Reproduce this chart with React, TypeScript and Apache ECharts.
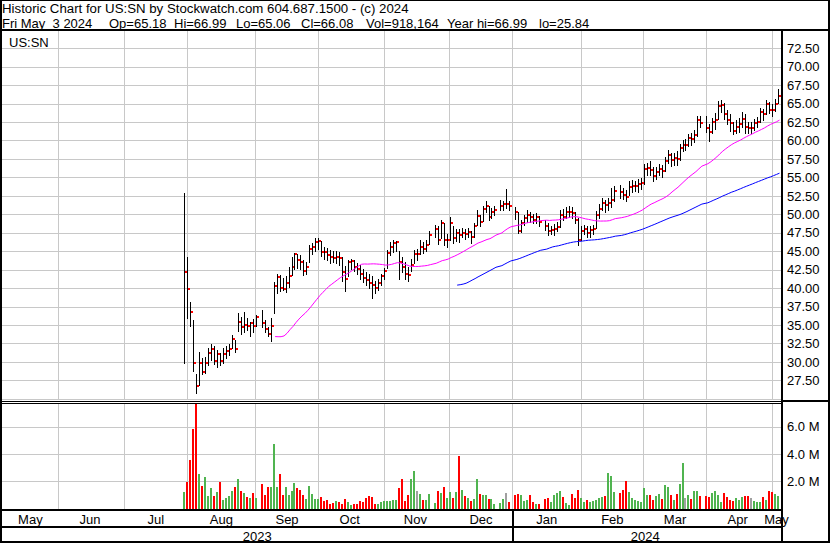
import React, { useEffect, useRef } from "react";
import * as echarts from "echarts";

const HEADER_LINE_1 = "Historic Chart for US:SN by Stockwatch.com 604.687.1500 - (c) 2024";
const HEADER_LINE_2_FIELDS = ["Fri May  3 2024", "Op=65.18", "Hi=66.99", "Lo=65.06", "Cl=66.08", "Vol=918,164", "Year hi=66.99", "lo=25.84"];
const HEADER_LINE_2_X = [2, 109, 174, 236, 301, 366, 447, 539];
const SYMBOL_LABEL = "US:SN";

const AXIS_FIRST_DAY = "2023-05-05";
const AXIS_LAST_DAY = "2024-05-03";
const FIRST_TRADING_DAY = "2023-07-31";
const MARKET_HOLIDAYS = ["2023-09-04", "2023-11-23", "2023-12-25", "2024-01-01", "2024-01-15", "2024-02-19", "2024-03-29"];
const MONTH_LABELS = ["Jan", "Feb", "Mar", "Apr", "May", "Jun", "Jul", "Aug", "Sep", "Oct", "Nov", "Dec"];

const PRICE_MIN = 25;
const PRICE_MAX = 75;
const PRICE_STEP = 2.5;
const VOLUME_MIN = 0;
const VOLUME_MAX = 7.75; // millions
const VOLUME_STEP = 2;
const VOLUME_LABELS = [2, 4, 6];
const MA_SHORT = 30;
const MA_LONG = 90;

// one entry per trading day, from 2023-07-31 to 2024-05-03
const HIGH = [
  52.95, 44.29, 38.16, 35.72, 28.41,
  31.43, 30.53, 30.75, 31.88, 32.47,
  32.20, 31.66, 31.21, 31.88, 32.24,
  32.47, 33.69, 33.00, 36.63, 36.17,
  36.76, 35.95, 35.50, 35.82, 36.40,
  37.07, 35.72, 34.81, 35.95,
  40.90, 42.00, 41.80, 41.40, 41.60,
  42.90, 44.30, 44.80, 44.60, 44.50,
  43.90, 43.60, 45.90, 46.20, 46.80,
  46.80, 46.40, 45.60, 45.50, 45.20,
  45.00, 45.10, 44.90, 44.30, 43.00,
  43.90, 44.00, 43.80, 43.40, 43.10,
  42.60, 42.20, 41.90, 41.60, 41.00,
  41.20, 42.00, 42.80, 45.20, 46.30,
  46.60, 46.40, 45.00, 44.20, 43.60,
  42.90, 44.00, 45.20, 45.30, 46.60,
  46.30, 46.60, 47.80, 48.60,
  48.40, 49.30, 48.90, 47.40, 49.60,
  48.50, 48.10, 48.00, 48.20, 48.00,
  48.20, 47.80, 48.90, 50.60, 50.00,
  51.20, 51.80, 51.20, 50.90, 51.20,
  51.90, 51.80, 53.50, 51.80,
  51.00, 50.30, 49.30, 50.00,
  50.60, 50.30, 50.10, 50.20, 49.80,
  49.20, 48.80, 48.50, 48.70,
  49.00, 50.60, 50.80, 51.00, 51.10,
  51.00, 50.40, 49.50, 48.40, 48.60,
  48.40, 48.40, 48.60, 50.50, 51.40,
  52.20, 51.90, 52.20, 53.60, 53.90,
  54.00, 53.60, 53.30, 54.50,
  54.70, 54.60, 54.80, 55.00, 56.80,
  57.00, 57.20, 56.40, 56.50, 56.90,
  56.70, 57.80, 58.80, 58.40, 58.30,
  58.60, 59.60, 60.10, 60.20, 60.90,
  61.00, 61.40, 63.40, 63.40,
  63.40, 62.20, 63.10, 63.80, 65.40,
  65.50, 65.10, 64.20, 63.60, 62.60,
  62.80, 63.10, 63.90, 63.60, 62.60,
  62.50, 63.00, 63.20, 64.40, 64.30,
  65.50, 65.20, 65.00, 65.60, 66.99,
];

const LOW = [
  29.94, 35.95, 34.95, 28.86, 25.84,
  26.92, 28.41, 28.59, 29.63, 30.30,
  29.76, 29.31, 29.54, 29.94, 30.53,
  31.00, 31.88, 31.43, 34.28, 33.83,
  34.14, 34.36, 33.55, 34.14, 34.90,
  34.81, 34.14, 33.55, 32.92,
  36.71, 39.40, 39.60, 39.80, 39.50,
  40.20, 41.80, 42.60, 42.80, 42.60,
  41.80, 41.90, 43.60, 44.60, 45.10,
  45.30, 44.40, 44.00, 43.80, 43.40,
  43.50, 43.40, 43.20, 41.00, 39.60,
  41.60, 42.60, 42.40, 42.00, 41.20,
  40.90, 40.50, 40.00, 38.70, 39.40,
  39.80, 40.40, 41.30, 42.80, 44.50,
  44.90, 45.00, 41.30, 42.20, 41.20,
  41.00, 42.30, 43.40, 43.90, 44.60,
  44.80, 45.00, 46.00, 47.00,
  46.00, 46.80, 45.80, 45.60, 46.50,
  46.20, 46.40, 46.30, 46.90, 46.70,
  46.90, 46.20, 46.90, 48.60, 48.50,
  49.10, 50.30, 49.30, 49.50, 49.90,
  50.60, 50.60, 50.90, 50.60,
  49.40, 47.50, 47.60, 48.60,
  49.00, 49.00, 48.80, 48.90, 48.40,
  47.90, 47.20, 47.30, 47.20,
  47.70, 48.30, 49.20, 49.50, 49.70,
  49.50, 48.90, 45.90, 46.50, 47.30,
  46.90, 47.00, 47.40, 48.20, 49.50,
  50.60, 50.30, 50.60, 51.00, 51.80,
  52.30, 52.10, 51.80, 52.60,
  53.00, 53.20, 53.10, 53.40, 54.20,
  55.30, 55.40, 54.50, 54.80, 55.30,
  55.10, 55.90, 57.00, 56.60, 56.70,
  56.70, 57.40, 58.60, 58.70, 59.30,
  59.40, 59.80, 60.60, 61.80,
  61.20, 60.00, 61.00, 61.60, 62.90,
  63.90, 63.00, 62.20, 61.30, 60.90,
  61.00, 61.20, 61.90, 61.10, 61.00,
  61.10, 61.50, 61.90, 62.60, 62.80,
  63.60, 63.80, 63.40, 64.00, 65.06,
];

const CLOSE = [
  42.26, 39.96, 36.80, 29.94, 26.79,
  29.94, 28.72, 29.85, 31.21, 31.80,
  30.17, 31.07, 30.17, 31.16, 31.57,
  31.84, 33.19, 31.80, 35.50, 34.81,
  35.04, 34.95, 35.27, 34.90, 36.09,
  35.35, 34.54, 33.78, 34.95,
  40.37, 41.59, 40.10, 39.92, 40.70,
  41.68, 42.94, 44.60, 43.84, 43.60,
  42.40, 42.94, 45.33, 45.60, 46.33,
  46.46, 44.97, 44.88, 44.52, 44.30,
  44.16, 44.30, 44.07, 42.27, 41.23,
  43.50, 43.70, 42.94, 42.60, 42.00,
  41.40, 41.10, 40.70, 40.40, 40.00,
  40.70, 41.60, 42.40, 44.75, 45.65,
  46.10, 46.30, 43.60, 42.90, 42.00,
  41.80, 43.10, 44.60, 44.60, 45.65,
  45.30, 45.90, 47.20, 48.10,
  46.55, 48.80, 46.50, 46.60, 48.90,
  46.80, 47.50, 47.20, 47.50, 47.30,
  47.60, 47.00, 48.40, 49.80, 49.00,
  50.70, 51.20, 49.60, 50.40, 50.60,
  51.20, 51.40, 51.40, 51.20,
  50.30, 47.80, 48.80, 49.50,
  50.00, 49.60, 49.30, 49.60, 49.00,
  48.40, 47.80, 47.90, 48.00,
  48.30, 49.90, 49.70, 50.30, 50.40,
  50.20, 49.30, 46.60, 47.80, 48.00,
  47.50, 47.90, 48.10, 49.90, 50.80,
  51.60, 51.30, 51.50, 51.90, 53.20,
  53.00, 52.70, 52.40, 53.70,
  53.80, 53.90, 54.10, 54.30, 56.20,
  56.30, 56.00, 55.20, 55.80, 56.10,
  55.90, 57.20, 58.10, 57.40, 57.60,
  57.50, 59.00, 59.40, 59.40, 60.30,
  60.20, 60.80, 62.80, 62.40,
  61.70, 61.20, 62.60, 62.80, 64.70,
  64.80, 63.60, 62.80, 62.40, 61.30,
  61.80, 62.30, 63.00, 61.90, 61.70,
  61.70, 62.40, 62.60, 63.90, 63.60,
  65.00, 64.20, 64.10, 65.00, 66.08,
];

// millions of shares
const VOLUME_M = [
  1.27, 1.95, 3.58, 5.85, 7.68,
  2.56, 1.68, 2.34, 0.95, 1.54,
  0.95, 1.24, 1.97, 0.66, 0.80,
  0.95, 1.32, 1.61, 2.19, 1.32,
  1.17, 0.88, 0.80, 1.17, 0.80,
  1.83, 1.02, 1.61, 1.61,
  4.75, 1.61, 2.56, 1.02, 1.61,
  1.02, 1.32, 1.90, 1.54, 1.39,
  1.02, 0.73, 1.68, 1.10, 0.73,
  0.73, 0.88, 0.59, 0.66, 0.37,
  0.44, 0.59, 0.51, 0.37, 0.73,
  0.51, 0.29, 0.37, 0.37, 0.59,
  0.51, 0.80, 0.95, 0.88, 0.37,
  0.37, 0.51, 0.59, 0.59, 0.59,
  0.66, 0.66, 1.54, 2.19, 0.59,
  1.02, 2.19, 2.78, 1.32, 1.10,
  0.66, 0.66, 1.10, 0.44,
  1.32, 1.17, 1.61, 0.80, 1.24,
  0.80, 1.24, 3.88, 1.39, 0.95,
  0.80, 0.59, 0.73, 2.19, 1.10,
  1.02, 1.02, 0.73, 0.73, 0.37,
  0.44, 0.73, 1.17, 0.51,
  1.02, 1.10, 1.02, 0.59,
  0.66, 1.02, 0.51, 0.37, 0.37,
  0.73, 0.80, 0.51, 1.02,
  1.17, 1.32, 0.88, 0.44, 0.29,
  1.10, 0.80, 1.39, 0.80, 0.51,
  0.66, 0.51, 0.59, 0.66, 0.80,
  0.88, 0.95, 2.63, 2.41, 1.24,
  1.17, 1.39, 2.05, 1.24,
  0.80, 0.66, 0.59, 0.51, 1.54,
  1.02, 1.02, 0.66, 0.95, 1.10,
  0.73, 1.76, 1.61, 1.02, 0.66,
  1.10, 1.83, 3.36, 0.80, 1.02,
  0.73, 1.32, 1.32, 0.95,
  0.95, 0.88, 1.17, 1.32, 1.02,
  0.51, 1.17, 0.88, 0.66, 0.59,
  0.80, 0.66, 0.88, 0.95, 0.95,
  0.80, 0.59, 0.51, 0.51, 0.88,
  0.66, 1.32, 1.24, 1.10, 0.92,
];

const FONT = '"Liberation Sans", Arial, Helvetica, sans-serif';
const GRID_COLOR = "#c8c8c8";
const UP_COLOR = "#50b450";
const DOWN_COLOR = "#ff0000";
const FLAT_COLOR = "#a0a0a0";

function isoDay(d: Date) {
  return d.toISOString().slice(0, 10);
}

function weekdaysBetween(a: string, b: string) {
  const out: string[] = [];
  const d = new Date(a + "T00:00:00Z");
  const end = new Date(b + "T00:00:00Z");
  while (d <= end) {
    const w = d.getUTCDay();
    if (w !== 0 && w !== 6) out.push(isoDay(d));
    d.setUTCDate(d.getUTCDate() + 1);
  }
  return out;
}

function midIndices(days: string[], keyLen: number) {
  const groups = new Map<string, number[]>();
  days.forEach((d, i) => {
    const k = d.slice(0, keyLen);
    if (!groups.has(k)) groups.set(k, []);
    groups.get(k)!.push(i);
  });
  const mids = new Set<number>();
  groups.forEach((idx) => mids.add(Math.floor((idx[0] + idx[idx.length - 1]) / 2)));
  return mids;
}

function movingAverage(values: number[], n: number) {
  return values.map((_, k) => {
    if (k < n - 1) return null;
    let s = 0;
    for (let j = k - n + 1; j <= k; j++) s += values[j];
    return s / n;
  });
}

export default function App() {
  const ref = useRef<HTMLDivElement>(null);

  useEffect(() => {
    document.body.style.margin = "0";
    if (!ref.current) return;
    const chart = echarts.init(ref.current, null, { renderer: "svg" });

    const axisDays = weekdaysBetween(AXIS_FIRST_DAY, AXIS_LAST_DAY);
    const slotOf = new Map(axisDays.map((d, i) => [d, i] as [string, number]));
    const tradingDays = axisDays.filter((d) => d >= FIRST_TRADING_DAY && !MARKET_HOLIDAYS.includes(d));
    const n = Math.min(tradingDays.length, HIGH.length, LOW.length, CLOSE.length, VOLUME_M.length);

    const monthStart = axisDays.map((d, i) => i > 0 && d.slice(0, 7) !== axisDays[i - 1].slice(0, 7));
    const monthMid = midIndices(axisDays, 7);
    const yearMid = midIndices(axisDays, 4);

    const priceData: number[][] = [];
    const volumeData: number[][] = [];
    const volumeDir: number[] = [];
    for (let t = 0; t < n; t++) {
      const slot = slotOf.get(tradingDays[t])!;
      priceData.push([slot, HIGH[t], LOW[t], CLOSE[t]]);
      volumeData.push([slot, VOLUME_M[t]]);
      volumeDir.push(t === 0 ? 1 : Math.sign(CLOSE[t] - CLOSE[t - 1]));
    }
    const closes = CLOSE.slice(0, n);
    const toAxis = (vals: (number | null)[]) => {
      const arr: (number | null)[] = axisDays.map(() => null);
      vals.forEach((v, t) => {
        arr[slotOf.get(tradingDays[t])!] = v;
      });
      return arr;
    };
    const maShort = toAxis(movingAverage(closes, MA_SHORT));
    const maLong = toAxis(movingAverage(closes, MA_LONG));

    const renderPrice = (params: any, api: any) => {
      const idx = api.value(0);
      const hi = api.coord([idx, api.value(1)]);
      const lo = api.coord([idx, api.value(2)]);
      const cl = api.coord([idx, api.value(3)]);
      const band = api.size([1, 0])[0];
      const col = Math.round(hi[0] - band / 2);
      const yTop = Math.round(hi[1]);
      const yBot = Math.round(lo[1]);
      return {
        type: "group",
        children: [
          { type: "rect", shape: { x: col, y: yTop, width: 1, height: Math.max(1, yBot - yTop + 1) }, style: { fill: "#000" } },
          { type: "rect", shape: { x: col + 1, y: Math.round(cl[1]) - 1, width: 2, height: 2 }, style: { fill: "#ff0000" } },
        ],
      };
    };

    const renderVolume = (params: any, api: any) => {
      const idx = api.value(0);
      const top = api.coord([idx, api.value(1)]);
      const base = api.coord([idx, 0]);
      const band = api.size([1, 0])[0];
      const col = Math.round(top[0] - band / 2);
      const dir = volumeDir[params.dataIndex];
      const yTop = Math.round(top[1]);
      return {
        type: "rect",
        shape: { x: col - 1, y: yTop, width: 2, height: Math.round(base[1]) - yTop },
        style: { fill: dir > 0 ? UP_COLOR : dir < 0 ? DOWN_COLOR : FLAT_COLOR },
      };
    };

    const labelStyle = { fontSize: 13, fontFamily: FONT, color: "#000" };
    const hiddenAxis = { axisLine: { show: false }, axisTick: { show: false } };
    const monthSplit = { show: true, interval: (i: number) => monthStart[i], lineStyle: { color: GRID_COLOR, width: 1 } };

    const bar = (x: number, y: number, w: number, h: number) => ({
      type: "rect",
      shape: { x, y, width: w, height: h },
      style: { fill: "#000" },
      z: 100,
      silent: true,
    });
    const text = (x: number, y: number, s: string, size = 13) => ({
      type: "text",
      x,
      y,
      z: 100,
      silent: true,
      style: { text: s, font: size + "px " + FONT, fill: "#000", align: "left", verticalAlign: "middle" },
    });

    const graphics: any[] = [
      bar(0, 0, 830, 1),
      bar(0, 0, 2, 543),
      bar(828, 0, 2, 543),
      bar(0, 541, 830, 2),
      bar(0, 29, 830, 2),
      bar(781, 30, 2, 513),
      bar(0, 401, 781, 1),
      bar(0, 403, 781, 1),
      bar(783, 400, 45, 2),
      bar(0, 509, 781, 2),
      bar(0, 526, 781, 2),
      text(2, 8, HEADER_LINE_1, 13.25),
      ...HEADER_LINE_2_FIELDS.map((s, k) => text(HEADER_LINE_2_X[k], 23.5, s)),
      text(9, 42, SYMBOL_LABEL),
    ];

    const option: any = {
      animation: false,
      backgroundColor: "#ffffff",
      grid: [
        { left: 2, top: 30, width: 779, height: 369 },
        { left: 2, top: 403, width: 779, height: 106 },
      ],
      xAxis: [
        {
          gridIndex: 0,
          type: "category",
          data: axisDays,
          boundaryGap: true,
          ...hiddenAxis,
          axisLabel: { show: false },
          splitLine: monthSplit,
        },
        {
          gridIndex: 1,
          type: "category",
          data: axisDays,
          boundaryGap: true,
          position: "bottom",
          ...hiddenAxis,
          axisLabel: {
            ...labelStyle,
            interval: (i: number) => monthMid.has(i),
            formatter: (v: string) => MONTH_LABELS[parseInt(v.slice(5, 7), 10) - 1],
            margin: 10,
            verticalAlign: "middle",
          },
          splitLine: monthSplit,
        },
        {
          gridIndex: 1,
          type: "category",
          data: axisDays,
          boundaryGap: true,
          position: "bottom",
          ...hiddenAxis,
          axisLabel: {
            ...labelStyle,
            interval: (i: number) => yearMid.has(i),
            formatter: (v: string) => v.slice(0, 4),
            margin: 27,
            verticalAlign: "middle",
          },
          splitLine: { show: false },
        },
      ],
      yAxis: [
        {
          gridIndex: 0,
          type: "value",
          position: "right",
          min: PRICE_MIN,
          max: PRICE_MAX,
          interval: PRICE_STEP,
          ...hiddenAxis,
          axisLabel: { ...labelStyle, margin: 6, showMinLabel: false, showMaxLabel: false, formatter: (v: number) => v.toFixed(2) },
          splitLine: { show: true, lineStyle: { color: GRID_COLOR, width: 1 } },
        },
        {
          gridIndex: 1,
          type: "value",
          position: "right",
          min: VOLUME_MIN,
          max: VOLUME_MAX,
          interval: VOLUME_STEP,
          ...hiddenAxis,
          axisLabel: {
            ...labelStyle,
            margin: 6,
            showMinLabel: false,
            showMaxLabel: false,
            formatter: (v: number) => (VOLUME_LABELS.includes(v) ? v.toFixed(1) + " M" : ""),
          },
          splitLine: { show: true, lineStyle: { color: GRID_COLOR, width: 1 } },
        },
      ],
      series: [
        {
          type: "custom",
          name: "Volume",
          xAxisIndex: 1,
          yAxisIndex: 1,
          data: volumeData,
          renderItem: renderVolume,
          encode: { x: 0, y: 1 },
          silent: true,
          z: 2,
        },
        {
          type: "custom",
          name: "Price",
          xAxisIndex: 0,
          yAxisIndex: 0,
          data: priceData,
          renderItem: renderPrice,
          encode: { x: 0, y: [1, 2, 3] },
          silent: true,
          z: 3,
        },
        {
          type: "line",
          name: "MA" + MA_SHORT,
          xAxisIndex: 0,
          yAxisIndex: 0,
          data: maShort,
          symbol: "none",
          connectNulls: true,
          silent: true,
          lineStyle: { color: "#ff00ff", width: 1 },
          z: 4,
        },
        {
          type: "line",
          name: "MA" + MA_LONG,
          xAxisIndex: 0,
          yAxisIndex: 0,
          data: maLong,
          symbol: "none",
          connectNulls: true,
          silent: true,
          lineStyle: { color: "#0000ff", width: 1 },
          z: 4,
        },
      ],
      graphic: graphics,
    };

    chart.setOption(option);

    const yearStart = axisDays.findIndex((d, i) => i > 0 && d.slice(0, 4) !== axisDays[i - 1].slice(0, 4));
    if (yearStart > 0) {
      const c0 = chart.convertToPixel({ xAxisIndex: 1 }, yearStart) as number;
      const c1 = chart.convertToPixel({ xAxisIndex: 1 }, yearStart + 1) as number;
      const xLine = Math.round(c0 - (c1 - c0) / 2);
      chart.setOption({ graphic: [...graphics, bar(xLine, 511, 2, 30)] });
    }

    return () => chart.dispose();
  }, []);

  return <div ref={ref} style={{ width: 830, height: 543 }} />;
}
